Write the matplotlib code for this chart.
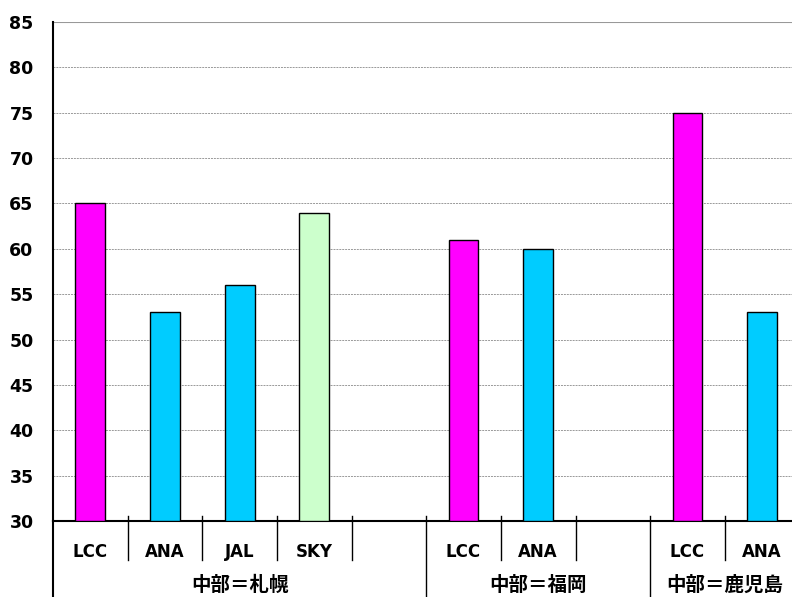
import matplotlib
matplotlib.use("Agg")

import matplotlib.pyplot as plt
from matplotlib.transforms import blended_transform_factory

plt.rcParams['font.family'] = ['DejaVu Sans', 'Noto Sans CJK JP']

# data
slot_labels = ["LCC", "ANA", "JAL", "SKY", "", "LCC", "ANA", "", "LCC", "ANA"]
values = [65, 53, 56, 64, None, 61, 60, None, 75, 53]
colors = ["#FF00FF", "#00CCFF", "#00CCFF", "#CCFFCC", None,
          "#FF00FF", "#00CCFF", None, "#FF00FF", "#00CCFF"]
groups = ["中部＝札幌", "中部＝福岡", "中部＝鹿児島"]
group_slots = [(0, 5), (5, 8), (8, 10)]
yticks = list(range(30, 90, 5))

fig = plt.figure(figsize=(7.92, 5.97), dpi=100)
ax = fig.add_axes([53 / 792, 76 / 597, 1 - 53 / 792, 499 / 597])

for i, v in enumerate(values):
    if v is None:
        continue
    ax.bar(i, v - 30, bottom=30, width=0.4, color=colors[i],
           edgecolor="black", linewidth=1.0, zorder=3)

ax.set_xlim(-0.5, 9.4)
ax.set_ylim(30, 85)
ax.set_yticks(yticks)
ax.set_yticklabels([str(t) for t in yticks], fontsize=12.5, fontweight="bold")
ax.tick_params(axis="y", length=0, pad=14)
ax.set_xticks([])

for t in yticks[1:-1]:
    ax.axhline(t, color="#999999", linewidth=0.7, linestyle=(0, (2, 1)), zorder=1)
ax.axhline(85, color="#999999", linewidth=1.5, zorder=1)

for s in ["top", "right"]:
    ax.spines[s].set_visible(False)
ax.spines["bottom"].set_linewidth(1.5)
ax.spines["left"].set_linewidth(1.5)
ax.spines["left"].set_bounds(30, 85)

trans = blended_transform_factory(ax.transData, ax.transAxes)
bottom_y = -78 / 499

# left spine extension
ax.plot([-0.5, -0.5], [0, bottom_y], color="black", linewidth=1.5,
        transform=trans, clip_on=False)

# slot separators and labels
group_edges = [g[0] for g in group_slots[1:]]
for i in range(1, 10):
    x = i - 0.5
    if i in group_edges:
        ax.plot([x, x], [0.01, bottom_y], color="black", linewidth=1.0,
                transform=trans, clip_on=False)
    else:
        ax.plot([x, x], [0.01, -39 / 499], color="black", linewidth=1.0,
                transform=trans, clip_on=False)

for i, lab in enumerate(slot_labels):
    if lab:
        ax.text(i, -29 / 499, lab, transform=trans, ha="center",
                va="center_baseline", fontsize=12, fontweight="bold")

for g, (a, b) in zip(groups, group_slots):
    xc = (a - 0.5 + b - 0.5) / 2
    ax.text(xc, -64 / 499, g, transform=trans, ha="center", va="center",
            fontsize=14, fontweight="bold",
            family=['Noto Sans CJK JP', 'DejaVu Sans'])

fig.savefig("out.png", dpi=100)
